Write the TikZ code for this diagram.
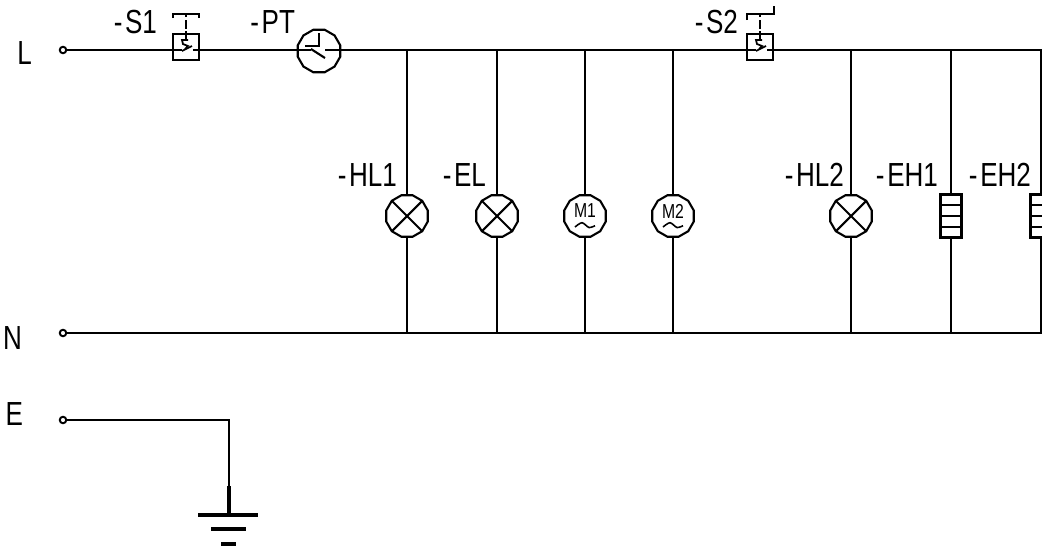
\documentclass[tikz,border=0pt]{standalone}
\usepackage{fontspec}
\setmainfont[FakeStretch=0.78]{Liberation Sans}
\usetikzlibrary{calc,positioning,shapes.geometric}
\newcommand{\tagname}[1]{-\kern1.5pt #1}

\begin{document}
\begin{tikzpicture}[x=0.02cm,y=-0.02cm,line width=1.2pt,
    term/.style={circle,draw,fill=white,line width=1.1pt,minimum size=0.13cm,inner sep=0pt},
    swbox/.style={rectangle,draw,minimum size=0.52cm,inner sep=0pt},
    load/.style={regular polygon,regular polygon sides=12,draw,minimum size=0.86cm,inner sep=0pt},
    heater/.style={rectangle,draw,minimum width=0.42cm,minimum height=0.86cm,inner sep=0pt},
    lab/.style={font=\fontsize{19}{19}\selectfont,inner sep=0pt,anchor=east},
    mlab/.style={font=\fontsize{11.5}{12}\selectfont,inner sep=0pt},
    gnd/.style={line width=2.3pt}]
                      \useasboundingbox (0,0) rectangle (1042,552);

                      % terminals
                      \node[term] (tl) at (63,50) {};
                      \node[term] (tn) at (63,333) {};
                      \node[term] (te) at (63,420) {};
                      \node[lab] (ll) at (33,53) {L};
                      \node[lab] (ln) at (23,338) {N};
                      \node[lab] (le) at (24,414) {E};

                      % switches and timer
                      \node[swbox] (s1) at (186,47) {};
                      \node[swbox] (s2) at (760,47) {};
                      \node[load,minimum size=0.88cm] (pt) at (319,51) {};
                      \node[lab] (ls1) at (158,22) {\tagname{S1}};
                      \node[lab] (lpt) at (296,22) {\tagname{PT}};
                      \node[lab] (ls2) at (739,22) {\tagname{S2}};

                      % loads
                      \node[load] (hl1) at (407,216) {};
                      \node[load] (el) at (497,216) {};
                      \node[load] (m1) at (585,216) {};
                      \node[load] (m2) at (673,216) {};
                      \node[load] (hl2) at (851,216) {};
                      \node[heater] (eh1) at (951,216) {};
                      \node[heater] (eh2) at (1041,216) {};
                      \node[lab] (lhl1) at (398,175) {\tagname{HL1}};
                      \node[lab] (lel) at (487,175) {\tagname{EL}};
                      \node[lab] (lhl2) at (845,175) {\tagname{HL2}};
                      \node[lab] (leh1) at (939,175) {\tagname{EH1}};
                      \node[lab] (leh2) at (1032,175) {\tagname{EH2}};
                      \node[mlab] (tm1) at (585,211) {M1};
                      \node[mlab] (tm2) at (673,211) {M2};

                      % crosses
                      \foreach \n in {hl1,el,hl2} {
                        \draw ($(\n.center)+(-15,-15)$) -- ($(\n.center)+(15,15)$);
                        \draw ($(\n.center)+(-15,15)$) -- ($(\n.center)+(15,-15)$);
                      }
                      % heater cells
                      \foreach \n in {eh1,eh2} {
                        \foreach \y in {-11,0,11}
                          \draw ($(\n.center)+(-10.5,\y)$) -- ($(\n.center)+(10.5,\y)$);
                      }
                      % motor waves
                      \foreach \n in {m1,m2}
                        \draw[line width=.9pt,shift={(\n.center)}] plot[smooth] coordinates {(-10,11) (-3,6.7) (4,11.5) (10,9.7)};

                      % switch contacts
                      \foreach \n in {s1,s2} {
                        \draw[line width=1pt] ($(\n.center)+(-4,4)$) -- ($(\n.center)+(6,-1)$);
                        \draw[line width=1pt] ($(\n.center)+(2,-7)$) -- ($(\n.center)+(-4,-7)$) -- ($(\n.center)+(-3,-3)$) -- ($(\n.center)+(2,-1)$) -- ($(\n.center)+(-1,2)$);
                        \draw[line width=1pt,dash pattern=on 5pt off 1.5pt] ($(\n.center)+(0,-7)$) -- ++(0,-26);
                      }
                      \draw (173,18) -- (173,14) -- (199,14) -- (199,18);
                      \draw (747,20) -- (747,14) -- (774,14) -- (774,6);

                      % timer hands
                      \draw (319,33) -- (319,46) -- (305,46);
                      \draw (311,49) -- (325,58);

                      % L wire
                      \coordinate (j1) at (407,50);
                      \coordinate (j2) at (497,50);
                      \coordinate (j3) at (585,50);
                      \coordinate (j4) at (673,50);
                      \coordinate (j5) at (851,50);
                      \coordinate (j6) at (951,50);
                      \coordinate (j7) at (1042,50);
                      \draw (tl) -- (182,50);
                      \draw (193,50) -- (s1.east |- 0,50) -- (pt.west |- 0,50) -- (311,50);
                      \draw (325,50) -- (pt.east |- 0,50) -- (j1) -- (j2) -- (j3) -- (j4) -- (756,50);
                      \draw (767,50) -- (j5) -- (j6) -- (j7);

                      % N wire
                      \coordinate (k1) at (407,333);
                      \coordinate (k2) at (497,333);
                      \coordinate (k3) at (585,333);
                      \coordinate (k4) at (673,333);
                      \coordinate (k5) at (851,333);
                      \coordinate (k6) at (951,333);
                      \coordinate (k7) at (1042,333);
                      \draw (tn) -- (k1) -- (k2) -- (k3) -- (k4) -- (k5) -- (k6) -- (k7);

                      % drops
                      \draw (j1) -- (hl1) -- (k1);
                      \draw (j2) -- (el) -- (k2);
                      \draw (j3) -- (m1) -- (k3);
                      \draw (j4) -- (m2) -- (k4);
                      \draw (j5) -- (hl2) -- (k5);
                      \draw (j6) -- (eh1) -- (k6);
                      \draw (1041,50) -- (eh2) -- (1041,333);

                      % earth
                      \coordinate (g0) at (229,420);
                      \coordinate (g1) at (229,486);
                      \coordinate (g2) at (229,515);
                      \draw (te) -- (g0) -- (g1);
                      \draw[gnd] (g1) -- (g2);
                      \draw[gnd] (198,515) -- (258,515);
                      \draw[gnd] (211,529) -- (246,529);
                      \draw[gnd] (221,544) -- (236,544);
                    \end{tikzpicture}
\end{document}
